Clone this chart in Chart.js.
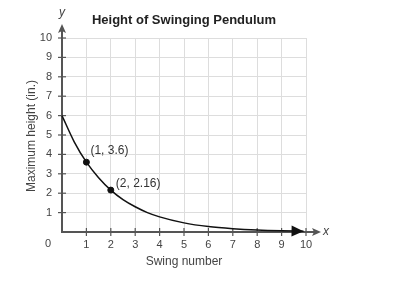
<!DOCTYPE html>
<html lang="en">
<head>
  <meta charset="UTF-8">
  <title>Height of Swinging Pendulum</title>
  <script src="https://cdn.jsdelivr.net/npm/chart.js"></script>
  <style>
    html, body { margin: 0; padding: 0; background: #fff; }
    #wrap { width: 394px; height: 285px; }
  </style>
</head>
<body>
  <div id="wrap"><canvas id="chart" width="394" height="285"></canvas></div>
  <script>
    // values
    const curveX = [0, 0.5, 1, 1.5, 2, 2.5, 3, 3.5, 4, 5, 6, 7, 8, 9, 9.9];
    const curveY = [6, 4.65, 3.6, 2.8, 2.16, 1.67, 1.3, 1.0, 0.78, 0.47, 0.28, 0.17, 0.1, 0.06, 0.04];
    const markedX = [1, 2];
    const markedY = [3.6, 2.16];
    const markedLabels = ['(1, 3.6)', '(2, 2.16)'];
    const xTicks = [0, 1, 2, 3, 4, 5, 6, 7, 8, 9, 10];
    const yTicks = [0, 1, 2, 3, 4, 5, 6, 7, 8, 9, 10];

    const FONT = '"Liberation Sans", Arial, sans-serif';
    const AXIS = '#555';

    const extras = {
      id: 'extras',
      beforeDatasetsDraw(chart) {
        const c = chart.ctx, x = chart.scales.x, y = chart.scales.y;
        const x0 = x.getPixelForValue(0), y0 = y.getPixelForValue(0);
        c.save();
        c.strokeStyle = AXIS;
        c.fillStyle = AXIS;
        c.lineWidth = 2;
        // y axis with arrow
        c.beginPath();
        c.moveTo(x0, y0 + 1);
        c.lineTo(x0, 28);
        c.stroke();
        c.beginPath();
        c.moveTo(x0, 24);
        c.lineTo(x0 - 4, 33);
        c.lineTo(x0, 31);
        c.lineTo(x0 + 4, 33);
        c.closePath();
        c.fill();
        // x axis with arrow
        c.beginPath();
        c.moveTo(x0 - 1, y0);
        c.lineTo(318, y0);
        c.stroke();
        c.beginPath();
        c.moveTo(321, y0);
        c.lineTo(312, y0 - 4);
        c.lineTo(314, y0);
        c.lineTo(312, y0 + 4);
        c.closePath();
        c.fill();
        // tick marks
        c.lineWidth = 1.2;
        yTicks.slice(1).forEach(v => {
          const py = y.getPixelForValue(v);
          c.beginPath();
          c.moveTo(x0 - 4, py);
          c.lineTo(x0 + 4, py);
          c.stroke();
        });
        xTicks.slice(1).forEach(v => {
          const px = x.getPixelForValue(v);
          c.beginPath();
          c.moveTo(px, y0 - 4);
          c.lineTo(px, y0 + 4);
          c.stroke();
        });
        c.restore();
      },
      afterDatasetsDraw(chart) {
        const c = chart.ctx, x = chart.scales.x, y = chart.scales.y;
        c.save();
        // arrowhead at the end of the curve
        const n = curveX.length;
        const tx = x.getPixelForValue(curveX[n - 1]), ty = y.getPixelForValue(curveY[n - 1]);
        const bx = x.getPixelForValue(curveX[n - 2]), by = y.getPixelForValue(curveY[n - 2]);
        const a = Math.atan2(ty - by, tx - bx);
        c.fillStyle = '#111';
        c.beginPath();
        c.moveTo(tx, ty);
        c.lineTo(tx - 12 * Math.cos(a) + 5.5 * Math.sin(a), ty - 12 * Math.sin(a) - 5.5 * Math.cos(a));
        c.lineTo(tx - 12 * Math.cos(a) - 5.5 * Math.sin(a), ty - 12 * Math.sin(a) + 5.5 * Math.cos(a));
        c.closePath();
        c.fill();

        // point labels
        c.fillStyle = '#333';
        c.font = '12px ' + FONT;
        c.textBaseline = 'middle';
        c.textAlign = 'left';
        const offs = [[4, -11], [5, -6]];
        markedLabels.forEach((t, i) => {
          c.fillText(t, x.getPixelForValue(markedX[i]) + offs[i][0], y.getPixelForValue(markedY[i]) + offs[i][1]);
        });

        // origin zero, axis letters
        c.font = '11px ' + FONT;
        c.fillStyle = '#444';
        c.textAlign = 'center';
        c.fillText('0', 48, 244);
        c.font = 'italic 12px ' + FONT;
        c.fillText('y', x.getPixelForValue(0), 13);
        c.textAlign = 'left';
        c.fillText('x', 323, y.getPixelForValue(0));

        // title
        c.fillStyle = '#222';
        c.font = 'bold 13px ' + FONT;
        c.textAlign = 'center';
        c.fillText('Height of Swinging Pendulum', 184, 20);

        // axis titles
        c.fillStyle = '#444';
        c.font = '12px ' + FONT;
        c.fillText('Swing number', 184, 262);
        c.translate(32, 136);
        c.rotate(-Math.PI / 2);
        c.fillText('Maximum height (in.)', 0, 0);
        c.restore();
      }
    };

    new Chart(document.getElementById('chart'), {
      type: 'scatter',
      data: {
        datasets: [
          {
            data: curveX.map((v, i) => ({ x: v, y: curveY[i] })),
            showLine: true,
            borderColor: '#111',
            borderWidth: 1.5,
            pointRadius: 0,
            cubicInterpolationMode: 'monotone',
            clip: false
          },
          {
            data: markedX.map((v, i) => ({ x: v, y: markedY[i] })),
            showLine: false,
            pointRadius: 3,
            pointBackgroundColor: '#111',
            pointBorderColor: '#111',
            clip: false
          }
        ]
      },
      options: {
        responsive: false,
        animation: false,
        events: [],
        layout: { padding: { left: 0, top: 38, right: 88, bottom: 0 } },
        plugins: { legend: { display: false }, tooltip: { enabled: false }, title: { display: false } },
        scales: {
          x: {
            type: 'linear',
            min: 0,
            max: 10,
            afterFit: s => { s.height = 53; },
            afterBuildTicks: s => { s.ticks = xTicks.map(v => ({ value: v })); },
            border: { display: false },
            grid: { color: '#ddd', lineWidth: 1, drawTicks: false },
            ticks: {
              padding: 6,
              color: '#444',
              font: { family: FONT, size: 11 },
              callback: v => (v === 0 ? '' : v)
            }
          },
          y: {
            min: 0,
            max: 10,
            afterFit: s => { s.width = 62; },
            afterBuildTicks: s => { s.ticks = yTicks.map(v => ({ value: v })); },
            border: { display: false },
            grid: { color: '#ddd', lineWidth: 1, drawTicks: false },
            ticks: {
              padding: 10,
              color: '#444',
              font: { family: FONT, size: 11 },
              callback: v => (v === 0 ? '' : v)
            }
          }
        }
      },
      plugins: [extras]
    });
  </script>
</body>
</html>
